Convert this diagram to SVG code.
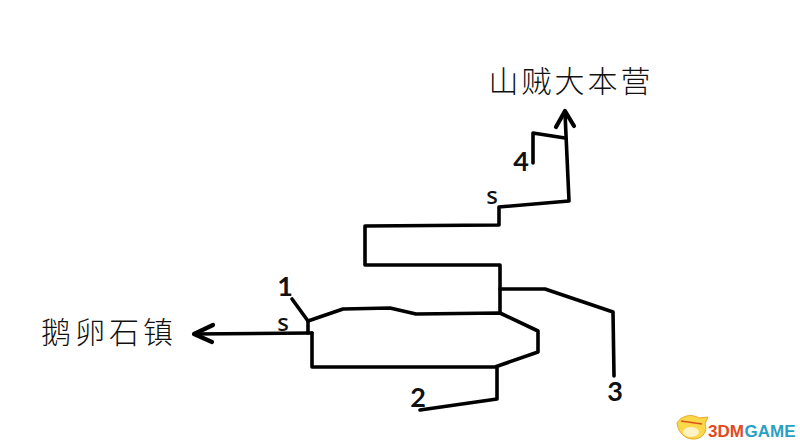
<svg xmlns="http://www.w3.org/2000/svg" width="800" height="444" viewBox="0 0 800 444">
<style>
.c{fill:none;stroke:#000;stroke-width:3.6;stroke-linecap:round;stroke-linejoin:round}
.h{stroke-width:4.2}
.n{font-family:"Lato","Noto Sans",sans-serif;font-size:27px;font-weight:700;fill:#111;text-anchor:middle}
.s{font-family:"Noto Sans",sans-serif;font-size:24px;font-weight:500;fill:#111;text-anchor:middle}
.z{font-family:"Noto Sans CJK SC",sans-serif;font-size:30px;font-weight:300;fill:#111;text-anchor:middle}
.w{font-family:"Liberation Sans",sans-serif;font-size:17px;font-weight:700}
</style>
<rect width="800" height="444" fill="#fff"/>
<g id="connectors">
<path class="c" d="M312 333L194 334"/>
<path class="c h" d="M213 325L194 334L212 342"/>
<path class="c" d="M292 299L308 321V333"/>
<path class="c" d="M308 321L343 309L390 308L416 314L500 313L538 331V352L495 367H312L312 333"/>
<path class="c" d="M497 367V399L420 410"/>
<path class="c" d="M500 289H545L613 312L614 376"/>
<path class="c" d="M500 313V265H365L365 226L499 225V207L569 201L565 113"/>
<path class="c h" d="M556 127L565 111L574 126"/>
<path class="c" d="M533 163V133L565 138"/>
</g>
<g id="node-camp"><text class="z" x="571" y="92" letter-spacing="3">山贼大本营</text></g>
<g id="node-town"><text class="z" x="109" y="343" letter-spacing="4">鹅卵石镇</text></g>
<g id="label-1"><text class="n" x="285" y="296">1</text></g>
<g id="label-s1"><text class="s" x="283" y="331">s</text></g>
<g id="label-2"><text class="n" x="418" y="407">2</text></g>
<g id="label-3"><text class="n" x="615" y="401">3</text></g>
<g id="label-4"><text class="n" x="521" y="171">4</text></g>
<g id="label-s2"><text class="s" x="492" y="204">s</text></g>
<g id="watermark">
<path d="M677 423C681 416 691 413 699 418L708 417L705 424C708 431 703 438 695 439C686 440 678 433 677 423Z" fill="#fbd84a" stroke="#e8a92a" stroke-width="1"/>
<path d="M681 421L702 424" stroke="#d9531e" stroke-width="1.6" fill="none"/>
<ellipse cx="691" cy="432" rx="8" ry="5" fill="#fff2c4"/>
<text class="w" x="708" y="437" fill="#e04a1c">3DM</text>
<text class="w" x="744.5" y="437" fill="#2a9fc4">GAME</text>
</g>
</svg>
